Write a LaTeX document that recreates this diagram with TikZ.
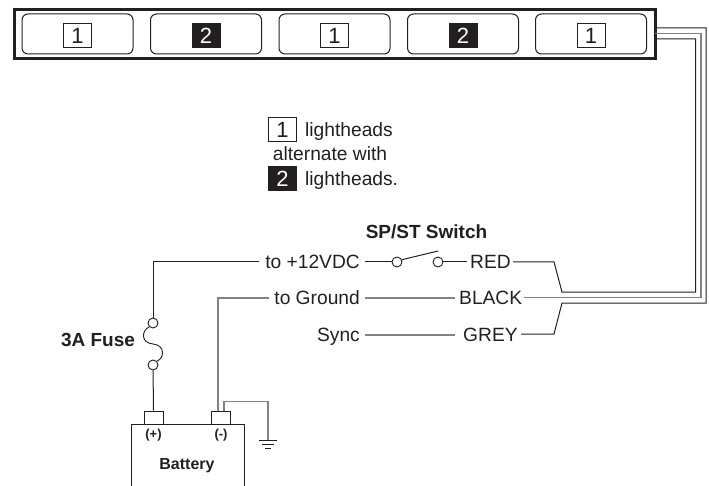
\documentclass[tikz,border=0pt]{standalone}
\usepackage{fontspec}
\setmainfont{Liberation Sans}
\definecolor{ink}{HTML}{231F20}
\definecolor{wiregrey}{HTML}{808285}
\tikzset{
  lbl/.style={inner sep=0pt,text=ink,text height=13.6pt,text depth=0pt,font=\fontsize{19.2}{20}\selectfont},
  boldlbl/.style={lbl,font=\fontsize{19}{20}\bfseries\selectfont},
  smalllbl/.style={lbl,text height=9pt,font=\fontsize{13}{13}\bfseries\selectfont},
  head/.style={draw=ink,line width=1pt,rounded corners=6pt,minimum width=111pt,minimum height=40pt,inner sep=0pt},
  whitetag/.style={draw=ink,line width=1pt,fill=white,text=ink,minimum width=28pt,minimum height=24pt,inner sep=0pt,font=\fontsize{22}{22}\selectfont},
  blacktag/.style={draw=ink,line width=1pt,fill=ink,text=white,minimum width=28pt,minimum height=24pt,inner sep=0pt,font=\fontsize{22}{22}\selectfont},
  blackwire/.style={draw=ink,line width=1pt},
  greywire/.style={draw=wiregrey,line width=1.3pt},
  contact/.style={circle,draw=ink,line width=0.9pt,fill=white,minimum size=10pt,inner sep=0pt},
  terminal/.style={draw=ink,line width=0.9pt,minimum width=19pt,minimum height=13pt,inner sep=0pt}
}
\begin{document}
\begin{tikzpicture}[x=1pt,y=-1pt]
\useasboundingbox (0,0) rectangle (709,486);
% lightbar
\draw[ink,line width=3pt] (14,9.5) rectangle (655,59);
\foreach \x/\kind/\num/\name in {77.5/whitetag/1/a,206/blacktag/2/b,334.5/whitetag/1/c,463/blacktag/2/d,591/whitetag/1/e} {
  \node[head] (head\name) at (\x,34) {};
  \node[\kind] (tag\name) at (\x,35.5) {\num};
}
% legend
\node[whitetag] (legone) at (282.5,130) {1};
\node[lbl,anchor=west] (legonetext) at (305,129.5) {lightheads};
\node[lbl] (legmid) at (330,154) {alternate with};
\node[blacktag] (legtwo) at (282.5,179) {2};
\node[lbl,anchor=west] (legtwotext) at (305,179) {lightheads.};
% labels of the leads
\node[boldlbl] (switchlabel) at (426.5,231.5) {SP/ST Switch};
\node[lbl,anchor=east] (plus) at (360,262) {to +12VDC};
\node[lbl,anchor=east] (ground) at (360,298) {to Ground};
\node[lbl,anchor=east] (sync) at (360,335) {Sync};
\node[lbl,anchor=west] (red) at (470,262) {RED};
\node[lbl,anchor=west] (black) at (459,298) {BLACK};
\node[lbl,anchor=west] (grey) at (463,335) {GREY};
% switch
\node[contact] (swa) at (397,262) {};
\node[contact] (swb) at (438,262) {};
\coordinate (swtip) at (438,251);
\draw[blackwire] ([xshift=5pt]plus.east) -- (swa);
\draw[blackwire] (swb) -- ([xshift=-3pt]red.west);
\draw[blackwire] (swa.25) -- (swtip);
\draw[greywire] ([xshift=5pt]ground.east) -- ([xshift=-4pt]black.west);
\draw[greywire] ([xshift=5pt]sync.east) -- ([xshift=-8pt]grey.west);
% cable to the bar
\coordinate (barr) at (655,28);
\coordinate (barg) at (655,33.5);
\coordinate (barb) at (655,39);
\draw[blackwire] (barb) -| (695.7,292) -- (562,292) -- (554,262) -- (513,262);
\draw[greywire,line width=1.5pt] (barg) -| (701,297.5) -- (524,297.5);
\draw[blackwire] (barr) -| (706,303) -- (562,303) -- (554,334) -- (521,334);
% battery
\draw[ink,line width=0.9pt] (131,486) |- (244,424) -- (244,486);
\node[terminal] (posterm) at (153.5,417.5) {};
\node[terminal] (negterm) at (221,417.5) {};
\node[smalllbl] (poslabel) at (153.5,434) {(+)};
\node[smalllbl] (neglabel) at (221,434) {(-)};
\node[smalllbl,text height=11.5pt,font=\fontsize{16}{16}\bfseries\selectfont] (batlabel) at (187,464) {Battery};
% fuse
\node[boldlbl] (fuselabel) at (98,340) {3A Fuse};
\node[contact] (fusetop) at (153,323) {};
\node[contact] (fusebot) at (153,365) {};
\draw[ink,line width=0.9pt] (fusetop.south west) .. controls (141,331) and (141,343) .. (153,344)
  .. controls (165,345) and (165,358) .. (fusebot.north east);
\draw[blackwire] ([xshift=-6pt]plus.west) -| (fusetop);
\draw[blackwire] (fusebot) -- (posterm.north);
% ground
\draw[greywire] ([xshift=-5pt]ground.west) -| ([xshift=-3pt]negterm.north);
\coordinate (earth) at (268,440);
\draw[greywire] ([xshift=3pt]negterm.north) |- (268,401.5) -- (earth);
\draw[ink,line width=0.8pt] (259,440) -- (277,440) (262,444) -- (274,444) (265,448) -- (271,448);
\end{tikzpicture}
\end{document}
